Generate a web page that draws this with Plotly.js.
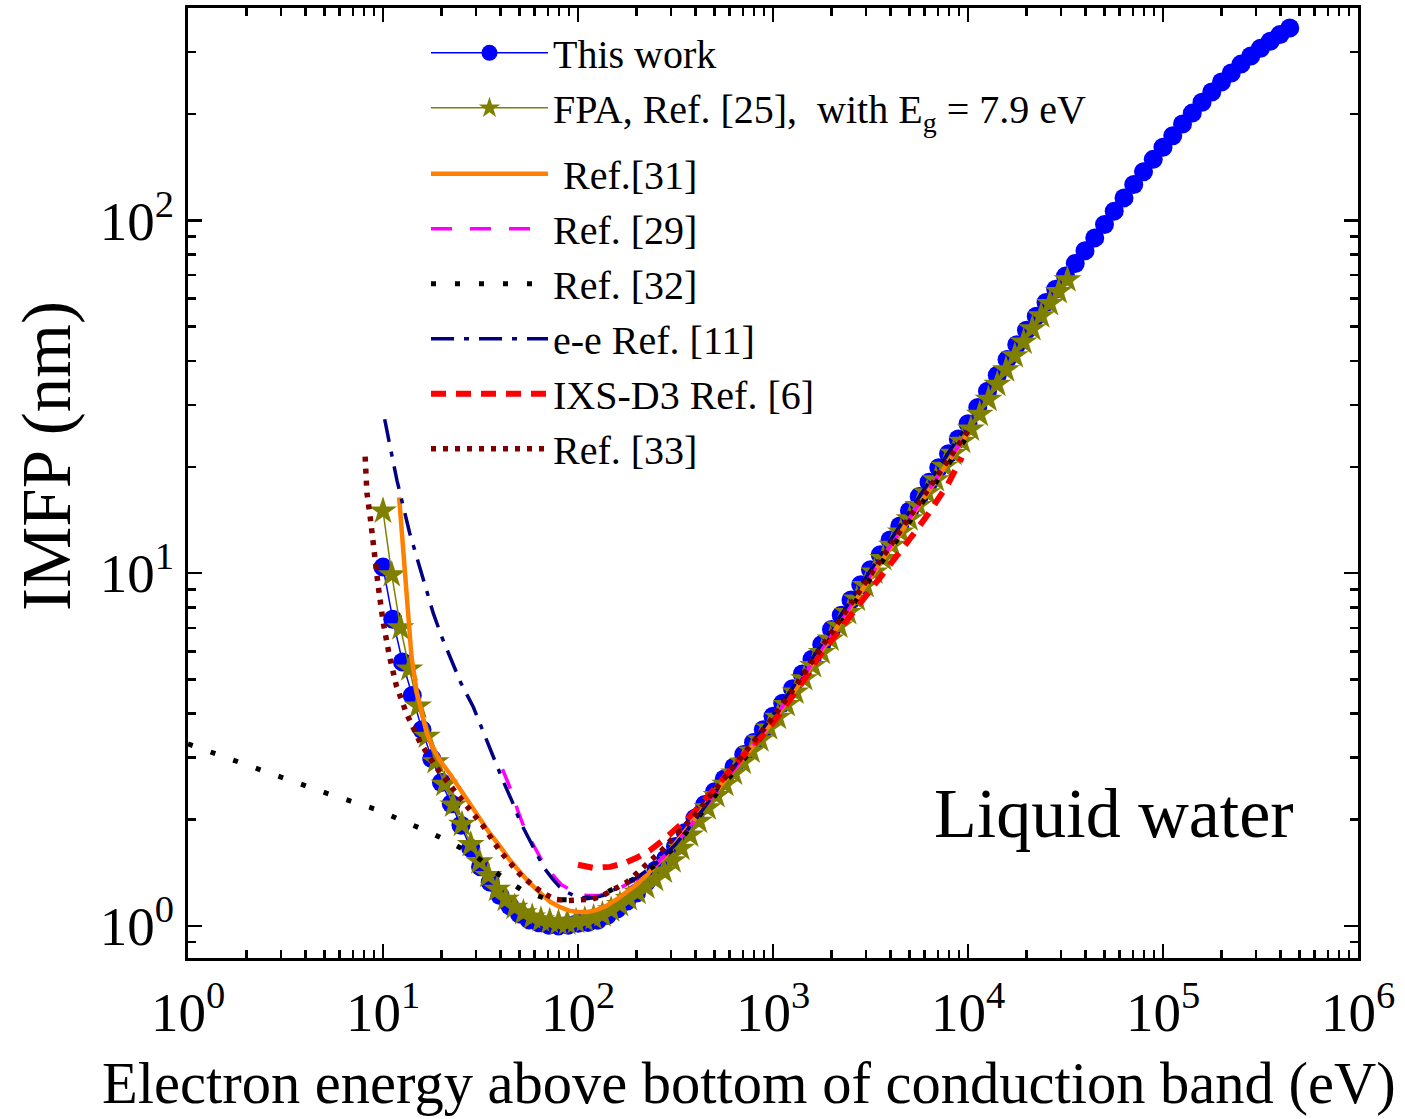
<!DOCTYPE html>
<html><head><meta charset="utf-8">
<script src="https://cdn.plot.ly/plotly-3.0.1.min.js"></script>
<style>html,body{margin:0;padding:0;background:#fff}#chart{width:1405px;height:1119px}</style>
</head><body><div id="chart"></div>
<script>
// ---- This work (blue circles) ----
var thisWorkE = [10, 11.22, 12.59, 14.13, 15.85, 17.78, 19.95, 22.39, 25.12, 28.18, 31.62, 35.48, 39.81, 44.67, 50.12, 56.23, 63.1, 70.79, 79.43, 89.13,
  100, 112.2, 125.9, 141.3, 158.5, 177.8, 199.5, 223.9, 251.2, 281.8, 316.2, 354.8, 398.1, 446.7, 501.2, 562.3, 631, 707.9, 794.3, 891.3,
  1000, 1122, 1259, 1413, 1585, 1778, 1995, 2239, 2512, 2818, 3162, 3548, 3981, 4467, 5012, 5623, 6310, 7079, 7943, 8913,
  10000, 11220, 12590, 14130, 15850, 17780, 19950, 22390, 25120, 28180, 31620, 35480, 39810, 44670, 50120, 56230, 63100, 70790, 79430, 89130,
  100000, 112200, 125900, 141300, 158500, 177800, 199500, 223900, 251200, 281800, 316200, 354800, 398100, 446700];
var thisWorkIMFP = [10.4, 7.4, 5.6, 4.5, 3.6, 2.98, 2.55, 2.22, 1.93, 1.66, 1.47, 1.33, 1.22, 1.14, 1.08, 1.04, 1.02, 1.005, 1.0, 1.005,
  1.018, 1.023, 1.037, 1.072, 1.117, 1.175, 1.24, 1.33, 1.44, 1.55, 1.68, 1.84, 2.02, 2.21, 2.40, 2.61, 2.82, 3.06, 3.31, 3.60,
  3.93, 4.28, 4.70, 5.18, 5.70, 6.28, 6.92, 7.60, 8.39, 9.27, 10.23, 11.27, 12.42, 13.6, 15.0, 16.5, 18.1, 19.9, 21.8, 24.0,
  26.5, 29.5, 32.8, 36.4, 40.3, 44.4, 48.8, 53.5, 58.5, 63.8, 69.5, 75.5, 82.0, 89.2, 97.3, 106.2, 115.8, 126.3, 137.4, 148.9,
  161.1, 173.8, 187.5, 201.4, 216.3, 231.2, 246.6, 261.8, 277.3, 292.4, 307.6, 322.1, 336.5, 350.8];

// ---- FPA, Ref. [25] (olive stars) ----
var fpaE = [10, 11.09, 12.3, 13.65, 15.14, 16.79, 18.62, 20.65, 22.91, 25.41, 28.18, 31.26, 34.67, 38.46, 42.66, 47.32, 52.48, 58.21, 64.57, 71.61,
  79.43, 88.1, 97.72, 108.4, 120.2, 133.4, 147.9, 164.1, 182, 201.8, 223.9, 248.3, 275.4, 305.5, 338.8, 375.8, 416.9, 462.4, 512.9, 568.9,
  631, 699.8, 776.2, 861, 955, 1059, 1175, 1303, 1445, 1603, 1778, 1972, 2188, 2427, 2692, 2985, 3311, 3673, 4074, 4519,
  5012, 5559, 6166, 6839, 7586, 8414, 9333, 10351, 11482, 12735, 14125, 15668, 17378, 19275, 21380, 23714, 26303, 29174, 32359];
var fpaIMFP = [15.0, 9.9, 7.0, 5.35, 4.2, 3.45, 2.92, 2.52, 2.2, 1.94, 1.7, 1.52, 1.39, 1.27, 1.19, 1.13, 1.09, 1.06, 1.04, 1.03,
  1.02, 1.02, 1.03, 1.04, 1.055, 1.075, 1.11, 1.15, 1.195, 1.245, 1.29, 1.355, 1.43, 1.53, 1.66, 1.81, 1.98, 2.16, 2.34, 2.52,
  2.71, 2.91, 3.13, 3.37, 3.64, 3.9, 4.24, 4.6, 5.02, 5.47, 5.96, 6.5, 7.08, 7.73, 8.44, 9.22, 10.07, 11.0, 12.0, 13.08,
  14.25, 15.55, 16.9, 18.4, 20.1, 21.85, 23.65, 25.6, 28.2, 31.1, 34.3, 37.7, 41.3, 45.2, 49.3, 53.6, 58.1, 62.8, 67.8];

// ---- Ref. [31] (orange solid) ----
var ref31E = [12.1, 12.4, 12.7, 13.1, 13.5, 14.0, 14.9, 15.8, 16.7, 18, 19.6, 22, 24.8, 28, 31.4, 35, 39.8, 45, 50, 56, 64, 72, 81, 90, 100,
  112, 125, 140, 158, 178, 200, 224, 251, 282, 316, 355, 398, 447, 501, 562, 631, 708, 794, 891, 1000, 1259, 1585, 1995, 2512, 3162, 3981, 5012, 6310, 7943, 10000];
var ref31IMFP = [16.4, 13.8, 11.7, 9.4, 7.7, 5.8, 4.6, 4.0, 3.55, 3.2, 2.94, 2.7, 2.45, 2.2, 2.0, 1.84, 1.68, 1.53, 1.43, 1.33, 1.24, 1.17, 1.13, 1.105, 1.095,
  1.095, 1.11, 1.14, 1.19, 1.245, 1.31, 1.39, 1.49, 1.58, 1.71, 1.85, 2.02, 2.19, 2.38, 2.57, 2.77, 3.0, 3.24, 3.51, 3.82, 4.55, 5.5, 6.64, 8.04, 9.77, 11.8, 14.2, 17.1, 20.6, 25.0];

// ---- Ref. [29] (magenta dashed) ----
var ref29E = [41, 43, 46, 49, 52, 56, 60, 65, 72, 82, 95, 110, 130, 160, 200, 251, 316, 398, 501, 631, 794, 1000, 1259, 1585, 1995, 2512, 3162, 3981, 5012, 6310, 7943, 10000];
var ref29IMFP = [2.78, 2.6, 2.38, 2.13, 1.95, 1.79, 1.66, 1.54, 1.42, 1.31, 1.25, 1.22, 1.22, 1.27, 1.36, 1.49, 1.70, 2.0, 2.37, 2.77, 3.25, 3.84, 4.58, 5.55, 6.7, 8.1, 9.85, 11.9, 14.3, 17.3, 20.8, 25.1];

// ---- Ref. [32] (black dotted) ----
var ref32E = [1, 1.5, 2, 3, 5, 7.2, 9.65, 12.7, 17.1, 22.4, 30.2, 39.8, 52, 70, 91, 126, 164, 200, 251, 316, 398, 501, 631, 794, 1000, 1259, 1585, 1995, 2512, 3162, 3981, 5012, 6310, 7943, 10000];
var ref32IMFP = [3.28, 3.02, 2.86, 2.64, 2.39, 2.23, 2.12, 1.98, 1.85, 1.72, 1.57, 1.39, 1.26, 1.19, 1.185, 1.21, 1.3, 1.37, 1.49, 1.68, 1.98, 2.34, 2.74, 3.2, 3.78, 4.5, 5.45, 6.55, 7.95, 9.65, 11.7, 14.0, 16.9, 20.4, 24.6];

// ---- e-e Ref. [11] (navy dash-dot) ----
var ref11E = [10.2, 10.6, 11.1, 11.8, 12.7, 13.7, 14.9, 16.3, 18.1, 20, 22, 25, 29, 33, 36.7, 41, 46, 50.4, 56.8, 62, 67, 74, 80.5, 88, 98, 110, 120, 135, 150, 175, 200,
  251, 316, 398, 501, 631, 794, 1000, 1259, 1585, 1995, 2512, 3162, 3981, 5012, 6310, 7943, 10000];
var ref11IMFP = [27.3, 24.2, 21.6, 18.3, 15.4, 13.0, 11.1, 9.3, 7.7, 6.6, 5.8, 4.9, 4.18, 3.5, 3.01, 2.6, 2.25, 1.98, 1.74, 1.58, 1.46, 1.36, 1.29, 1.245, 1.21, 1.2, 1.2, 1.22, 1.26, 1.31, 1.37,
  1.5, 1.7, 1.99, 2.38, 2.82, 3.33, 3.96, 4.72, 5.72, 6.9, 8.4, 10.2, 12.4, 15.0, 18.1, 21.9, 26.6];

// ---- IXS-D3 Ref. [6] (red dashed) ----
var ref6E = [100, 120, 146, 175, 200, 235, 270, 315, 370, 430, 490, 560, 650, 760, 900, 1050, 1200, 1450, 1700, 2200, 2700, 3400, 4200, 5200, 6300, 7900, 9300];
var ref6IMFP = [1.49, 1.46, 1.47, 1.51, 1.56, 1.64, 1.74, 1.87, 2.03, 2.22, 2.42, 2.64, 2.9, 3.18, 3.5, 3.9, 4.3, 5.0, 5.75, 6.9, 8.0, 9.4, 11.0, 12.8, 14.8, 17.9, 21.3];

// ---- Ref. [33] (maroon dotted) ----
var ref33E = [8.1, 8.27, 8.6, 8.93, 9.45, 10.0, 10.8, 11.7, 13.2, 15.5, 18.8, 22.9, 29, 32.6, 36.7, 39.8, 44.8, 50.4, 58, 66, 76, 88, 100, 118, 134, 155, 178, 203, 235, 270, 308,
  398, 501, 631, 794, 1000, 1259, 1585, 1995, 2512, 3162, 3981, 5012, 6310, 7943, 10000];
var ref33IMFP = [21.4, 16.9, 14.4, 11.7, 9.2, 7.3, 5.8, 4.8, 4.0, 3.31, 2.81, 2.44, 2.07, 1.92, 1.74, 1.63, 1.51, 1.40, 1.31, 1.24, 1.19, 1.18, 1.185, 1.19, 1.22, 1.28, 1.33, 1.42, 1.52, 1.64, 1.78,
  2.06, 2.42, 2.83, 3.3, 3.9, 4.65, 5.6, 6.75, 8.15, 9.9, 11.95, 14.4, 17.4, 21.0, 25.3];

// ---- tick labels ----
var xTickVals = [1, 10, 100, 1000, 10000, 100000, 1000000];
var xTickText = ['10<sup>0</sup>', '10<sup>1</sup>', '10<sup>2</sup>', '10<sup>3</sup>', '10<sup>4</sup>', '10<sup>5</sup>', '10<sup>6</sup>'];
var yTickVals = [1, 10, 100];
var yTickText = ['10<sup>0</sup>', '10<sup>1</sup>', '10<sup>2</sup>'];

var seriesNames = ['This work', 'FPA, Ref. [25],\u00a0 with E<sub>g</sub> = 7.9 eV', '\u00a0Ref.[31]', 'Ref. [29]', 'Ref. [32]', 'e-e Ref. [11]', 'IXS-D3 Ref. [6]', 'Ref. [33]'];

var FONT = '"Liberation Serif", "Times New Roman", Times, serif';

var traces = [
  {name: seriesNames[0], legendgroup: 'a', x: thisWorkE, y: thisWorkIMFP, mode: 'lines+markers',
   line: {color: '#0000ff', width: 1.5}, marker: {symbol: 'circle', size: 19, color: '#0000ff'}},
  {name: seriesNames[1], legendgroup: 'a', x: fpaE, y: fpaIMFP, mode: 'lines+markers',
   line: {color: '#808000', width: 1.5}, marker: {symbol: 'star', size: 21, color: '#808000'}},
  {name: seriesNames[2], legendgroup: 'b', x: ref31E, y: ref31IMFP, mode: 'lines',
   line: {color: '#ff8000', width: 4.5}},
  {name: seriesNames[3], legendgroup: 'b', x: ref29E, y: ref29IMFP, mode: 'lines',
   line: {color: '#ff00ff', width: 3.5, dash: '21px,18px'}},
  {name: seriesNames[4], legendgroup: 'b', x: ref32E, y: ref32IMFP, mode: 'lines',
   line: {color: '#000000', width: 5, dash: '5px,19px'}},
  {name: seriesNames[5], legendgroup: 'b', x: ref11E, y: ref11IMFP, mode: 'lines',
   line: {color: '#000080', width: 3.5, dash: '23px,10px,5px,10px'}},
  {name: seriesNames[6], legendgroup: 'b', x: ref6E, y: ref6IMFP, mode: 'lines',
   line: {color: '#ff0000', width: 6, dash: '15px,10px'}},
  {name: seriesNames[7], legendgroup: 'b', x: ref33E, y: ref33IMFP, mode: 'lines',
   line: {color: '#800000', width: 5.5, dash: '5px,7px'}}
];

var axisCommon = {
  type: 'log', tickmode: 'array', ticks: 'inside', ticklen: 14, tickwidth: 2.5, tickcolor: '#000',
  showline: true, linewidth: 3, linecolor: '#000', mirror: 'ticks', showgrid: false, zeroline: false,
  tickfont: {size: 55, family: FONT, color: '#000'},
  minor: {ticks: 'inside', ticklen: 8, tickwidth: 2.5, tickcolor: '#000', dtick: 'D1', showgrid: false}
};

var layout = {
  width: 1405, height: 1119,
  margin: {l: 188, r: 47, t: 8, b: 161, pad: 0},
  paper_bgcolor: '#ffffff', plot_bgcolor: '#ffffff',
  font: {family: FONT, color: '#000'},
  showlegend: true,
  legend: {x: 0.2034, y: 0.987, xanchor: 'left', yanchor: 'top', bgcolor: 'rgba(0,0,0,0)',
           font: {size: 40, family: FONT, color: '#000'}, itemwidth: 117, tracegroupgap: 11,
           traceorder: 'grouped'},
  xaxis: Object.assign({}, axisCommon, {range: [0, 6], tickvals: xTickVals, ticktext: xTickText, ticklabelstandoff: 4}),
  yaxis: Object.assign({}, axisCommon, {range: [-0.091, 2.602], tickvals: yTickVals, ticktext: yTickText}),
  annotations: [
    {text: 'Liquid water', xref: 'paper', yref: 'paper', x: 0.7915, y: 0.152, xanchor: 'center', yanchor: 'middle',
     showarrow: false, font: {size: 70, family: FONT, color: '#000'}},
    {text: 'IMFP (nm)', xref: 'paper', yref: 'paper', x: -0.1205, y: 0.5284, xanchor: 'center', yanchor: 'middle',
     textangle: -90, showarrow: false, font: {size: 69, family: FONT, color: '#000'}},
    {text: 'Electron energy above bottom of conduction band (eV)', xref: 'paper', yref: 'paper', x: 0.4795, y: -0.1325,
     xanchor: 'center', yanchor: 'middle', showarrow: false, font: {size: 58.5, family: FONT, color: '#000'}}
  ]
};

Plotly.newPlot('chart', traces, layout, {displayModeBar: false, staticPlot: true});
</script>
</body></html>
